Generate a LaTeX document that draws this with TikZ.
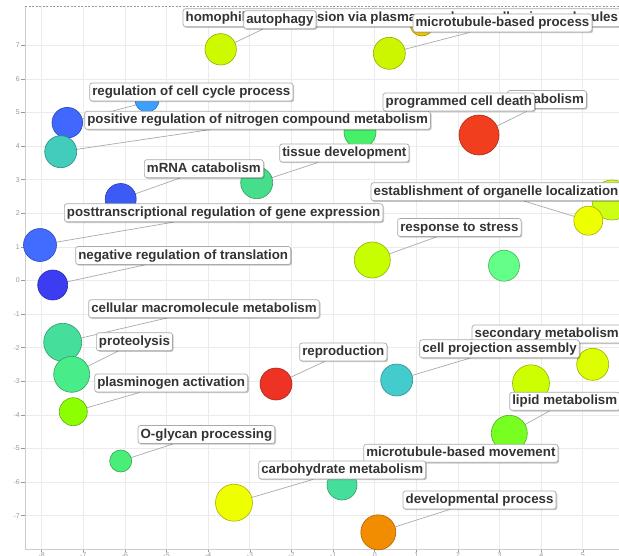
\documentclass[tikz,border=0pt]{standalone}
\usepackage{fontspec}
\setmainfont{Liberation Sans}
\usetikzlibrary{shadows,calc}
\pgfdeclarelayer{bg}
\pgfdeclarelayer{lines}
\pgfsetlayers{bg,lines,main}
\definecolor{gridc}{HTML}{EBEBEB}
\definecolor{axisc}{HTML}{CCCCCC}
\definecolor{tickc}{HTML}{999999}
\definecolor{labtext}{HTML}{333333}
\definecolor{labdraw}{HTML}{AAAAAA}
\definecolor{connc}{HTML}{AAAAAA}
\tikzset{
  bubble/.style={circle, inner sep=0pt, minimum size=#1, line width=0.6pt},
  lab/.style={draw=labdraw, fill=white, rounded corners=2.5pt, line width=0.7pt,
    inner xsep=2.6pt, inner ysep=2.5pt, text height=10pt, text depth=3pt,
    anchor=west, text=labtext,
    font=\fontsize{13.3}{15}\selectfont\bfseries,
    drop shadow={shadow xshift=1.2pt, shadow yshift=-1.2pt, fill=black, opacity=0.22}},
  conn/.style={draw=connc, line width=0.7pt},
  ticklab/.style={text=tickc, font=\fontsize{7}{8}\selectfont, inner sep=0pt}
}
\begin{document}
\begin{tikzpicture}[x=1pt,y=-1pt]
\useasboundingbox (0,0) rectangle (619,555);
\begin{pgfonlayer}{bg}
\fill[white] (0,0) rectangle (619,555);
% horizontal grid + y labels
\foreach \v in {7,6,...,-7}{
  \pgfmathsetmacro{\yy}{280.5-33.6*\v}
  \draw[gridc, line width=0.8pt] (25,\yy) -- (619,\yy);
  \draw[tickc, line width=0.5pt] (21,\yy) -- (25,\yy);
  \node[ticklab, anchor=east] (yl\v) at (20,\yy) {\v};
}
% vertical grid + x labels
\foreach \k in {0,...,13}{
  \pgfmathsetmacro{\xx}{41.7+41.63*\k}
  \pgfmathtruncatemacro{\lv}{\k-8}
  \draw[gridc, line width=0.8pt] (\xx,6) -- (\xx,549.3);
  \draw[tickc, line width=0.5pt] (\xx,549.3) -- (\xx,552);
  \node[ticklab, anchor=north] (xl\k) at (\xx,552.5) {\lv};
}
\draw[axisc, line width=0.8pt] (25,6) -- (25,549.3) -- (619,549.3);
\draw[tickc, line width=0.6pt, dash pattern=on 2pt off 1.5pt] (25,6) -- (619,6);
\end{pgfonlayer}

% bubbles
\node[bubble=31.4, fill={rgb,255:red,206;green,250;blue,0}, draw={rgb,255:red,150;green,170;blue,0}] (c1) at (220.7,49.3) {};
\node[bubble=24, fill={rgb,255:red,240;green,200;blue,0}, draw={rgb,255:red,170;green,140;blue,0}] (c2) at (422,24) {};
\node[bubble=32, fill={rgb,255:red,204;green,246;blue,0}, draw={rgb,255:red,150;green,170;blue,0}] (c3) at (389.3,53.3) {};
\node[bubble=24, fill={rgb,255:red,60;green,160;blue,255}, draw={rgb,255:red,40;green,110;blue,180}] (c4) at (147,100) {};
\node[bubble=30.6, fill={rgb,255:red,64;green,104;blue,255}, draw={rgb,255:red,40;green,70;blue,180}] (c5) at (67.3,122.7) {};
\node[bubble=32, fill={rgb,255:red,66;green,204;blue,188}, draw={rgb,255:red,40;green,140;blue,130}] (c6) at (60.7,151.7) {};
\node[bubble=32, fill={rgb,255:red,70;green,240;blue,104}, draw={rgb,255:red,50;green,170;blue,75}] (c7) at (360,132) {};
\node[bubble=40, fill={rgb,255:red,240;green,62;blue,30}, draw={rgb,255:red,170;green,44;blue,22}] (c8) at (479,135) {};
\node[bubble=31, fill={rgb,255:red,60;green,90;blue,245}, draw={rgb,255:red,40;green,62;blue,170}] (c9) at (120.7,199) {};
\node[bubble=32, fill={rgb,255:red,70;green,222;blue,138}, draw={rgb,255:red,50;green,155;blue,97}] (c10) at (256.7,182.7) {};
\node[bubble=33, fill={rgb,255:red,66;green,108;blue,255}, draw={rgb,255:red,46;green,76;blue,180}] (c11) at (40,245) {};
\node[bubble=30, fill={rgb,255:red,60;green,60;blue,242}, draw={rgb,255:red,42;green,42;blue,170}] (c12) at (52.7,285) {};
\node[bubble=40, fill={rgb,255:red,204;green,255;blue,20}, draw={rgb,255:red,150;green,175;blue,10}] (c13) at (612,200) {};
\node[bubble=29, fill={rgb,255:red,238;green,255;blue,0}, draw={rgb,255:red,170;green,175;blue,0}] (c14) at (588.3,220.7) {};
\node[bubble=36, fill={rgb,255:red,200;green,255;blue,0}, draw={rgb,255:red,145;green,175;blue,0}] (c15) at (372.3,260) {};
\node[bubble=31, fill={rgb,255:red,100;green,255;blue,136}, draw={rgb,255:red,70;green,180;blue,95}] (c16) at (504,265.7) {};
\node[bubble=38, fill={rgb,255:red,70;green,222;blue,155}, draw={rgb,255:red,50;green,155;blue,108}] (c17) at (62.7,342.3) {};
\node[bubble=36, fill={rgb,255:red,72;green,236;blue,136}, draw={rgb,255:red,50;green,165;blue,95}] (c18) at (71.7,374.3) {};
\node[bubble=28, fill={rgb,255:red,140;green,255;blue,0}, draw={rgb,255:red,100;green,175;blue,0}] (c19) at (73.3,411.7) {};
\node[bubble=32, fill={rgb,255:red,238;green,50;blue,36}, draw={rgb,255:red,170;green,36;blue,26}] (c20) at (276,384) {};
\node[bubble=32, fill={rgb,255:red,68;green,204;blue,204}, draw={rgb,255:red,48;green,143;blue,143}] (c21) at (396.7,380) {};
\node[bubble=32, fill={rgb,255:red,221;green,255;blue,0}, draw={rgb,255:red,160;green,175;blue,0}] (c22) at (592.7,364.3) {};
\node[bubble=37, fill={rgb,255:red,204;green,255;blue,0}, draw={rgb,255:red,150;green,175;blue,0}] (c23) at (531,383.3) {};
\node[bubble=36, fill={rgb,255:red,119;green,255;blue,34}, draw={rgb,255:red,85;green,175;blue,25}] (c24) at (509.3,433.3) {};
\node[bubble=22, fill={rgb,255:red,72;green,238;blue,120}, draw={rgb,255:red,50;green,165;blue,85}] (c25) at (120.7,461) {};
\node[bubble=37, fill={rgb,255:red,238;green,255;blue,0}, draw={rgb,255:red,170;green,175;blue,0}] (c26) at (234,502.7) {};
\node[bubble=30, fill={rgb,255:red,70;green,222;blue,155}, draw={rgb,255:red,50;green,155;blue,108}] (c27) at (342,485) {};
\node[bubble=35, fill={rgb,255:red,242;green,140;blue,0}, draw={rgb,255:red,175;green,100;blue,0}] (c28) at (378.3,532.3) {};

% labels
\node[lab] (lhomo) at (182.7,17.7) {homophilic cell adhesion via plasma membrane adhesion molecules};
\node[lab] (lauto) at (243.3,19.7) {autophagy};
\node[lab] (lmtp) at (412.7,23) {microtubule-based process};
\node[lab] (lrcc) at (89.3,92) {regulation of cell cycle process};
\node[lab] (lprn) at (84.3,120.3) {positive regulation of nitrogen compound metabolism};
\node[lab] (lmet) at (507,99.5) {metabolism};
\node[lab] (lpcd) at (382.7,102) {programmed cell death};
\node[lab] (lmrna) at (144,168.7) {mRNA catabolism};
\node[lab] (ltis) at (279.3,153) {tissue development};
\node[lab] (lptr) at (64,212.8) {posttranscriptional regulation of gene expression};
\node[lab] (leol) at (370.7,191.7) {establishment of organelle localization};
\node[lab] (lrts) at (397.3,227.5) {response to stress};
\node[lab] (lnrt) at (75.3,255.5) {negative regulation of translation};
\node[lab] (lcmm) at (88.3,308.7) {cellular macromolecule metabolism};
\node[lab] (lpro) at (96,341.7) {proteolysis};
\node[lab] (lpla) at (94.3,383) {plasminogen activation};
\node[lab] (lrep) at (299.3,352) {reproduction};
\node[lab] (lsec) at (471.7,334) {secondary metabolism};
\node[lab] (lcpa) at (419.3,348.8) {cell projection assembly};
\node[lab] (llip) at (509.3,401.3) {lipid metabolism};
\node[lab] (logl) at (137.7,434.5) {O-glycan processing};
\node[lab] (lmtm) at (363.3,453.3) {microtubule-based movement};
\node[lab] (lcar) at (258.3,470) {carbohydrate metabolism};
\node[lab] (ldev) at (402.7,500) {developmental process};

% connectors
\begin{pgfonlayer}{lines}
\draw[conn] (c1.center) -- ([xshift=19.7pt]lauto.south west);
\draw[conn] (c3.center) -- ([xshift=57.3pt]lmtp.south west);
\draw[conn] (c5.center) -- ([xshift=60.7pt]lrcc.south west);
\draw[conn] (c6.center) -- ([xshift=125.7pt]lprn.south west);
\draw[conn] (c8.center) -- ([xshift=144pt]lpcd.south west);
\draw[conn] (c9.center) -- ([xshift=36pt]lmrna.south west);
\draw[conn] (c10.center) -- ([xshift=39pt]ltis.south west);
\draw[conn] (c11.center) -- ([xshift=109.3pt]lptr.south west);
\draw[conn] (c12.center) -- ([xshift=69.7pt]lnrt.south west);
\draw[conn] (c14.center) -- ([xshift=153.3pt]leol.south west);
\draw[conn] (c15.center) -- ([xshift=39.4pt]lrts.south west);
\draw[conn] (c17.center) -- ([xshift=78.4pt]lcmm.south west);
\draw[conn] (c18.center) -- ([xshift=22.3pt]lpro.south west);
\draw[conn] (c19.center) -- ([xshift=45.7pt]lpla.south west);
\draw[conn] (c20.center) -- ([xshift=25.7pt]lrep.south west);
\draw[conn] (c21.center) -- ([xshift=50.7pt]lcpa.south west);
\draw[conn] (c24.center) -- ([xshift=40.7pt]llip.south west);
\draw[conn] (c25.center) -- ([xshift=35.6pt]logl.south west);
\draw[conn] (c26.center) -- ([xshift=55pt]lcar.south west);
\draw[conn] (c28.center) -- ([xshift=47.3pt]ldev.south west);
\end{pgfonlayer}
\end{tikzpicture}
\end{document}
